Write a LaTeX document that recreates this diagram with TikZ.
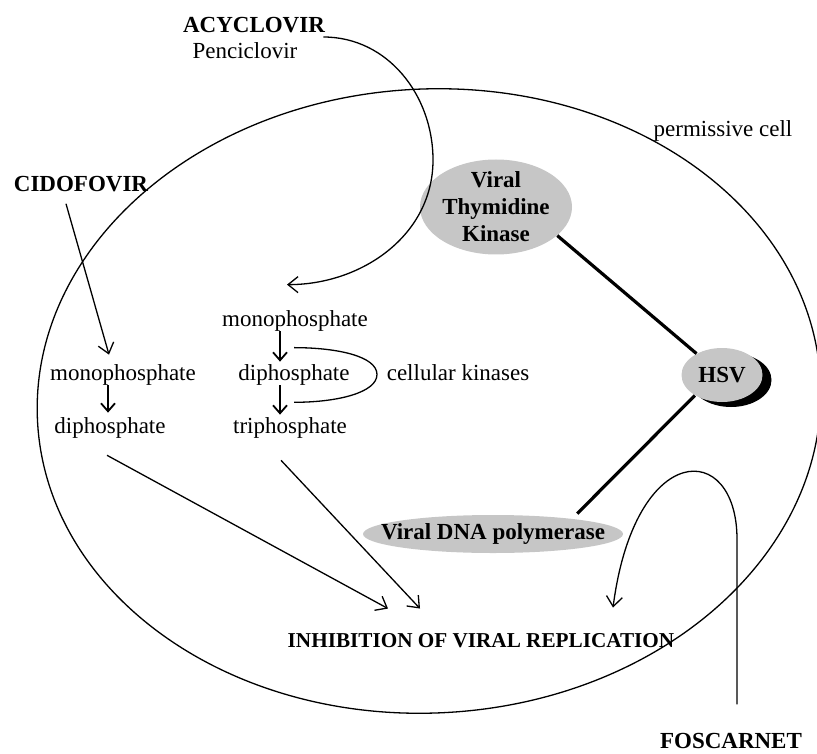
\documentclass[tikz,border=0pt]{standalone}
\usepackage{fontspec}
\setmainfont{Liberation Serif}
\usetikzlibrary{arrows.meta,shapes.geometric,shadows}
\definecolor{blobgray}{RGB}{198,198,198}
\begin{document}
\begin{tikzpicture}[x=0.5pt,y=0.5pt,
        font=\fontsize{11.5}{13.5}\selectfont,
        drug/.style={font=\fontsize{11.5}{13.5}\selectfont\bfseries},
        blob/.style={ellipse,fill=blobgray,align=center,font=\fontsize{11.5}{13.5}\selectfont\bfseries},
        flow/.style={line width=0.65pt,-{Straight Barb[length=5pt,width=8pt]}},
        steparrow/.style={line width=0.9pt,-{Straight Barb[length=4pt,width=7pt]}},
        link/.style={line width=1.6pt}]
        \tikzstyle{every node}+=[inner sep=0pt]
        \useasboundingbox (0,0) rectangle (817,-753);
        \node[blob,minimum width=76pt,minimum height=47.5pt,inner ysep=-3pt] (tk) at (496,-207) {Viral\\Thymidine\\Kinase};
        \node[blob,minimum width=40.5pt,minimum height=27pt,drop shadow={shadow xshift=4.5pt,shadow yshift=-2.5pt,fill=black,opacity=1}] (hsv) at (722,-375) {HSV};
        \node[blob,minimum width=130pt,minimum height=19pt,inner xsep=-11pt] (dna) at (493,-534) {Viral DNA polymerase};
        \draw[line width=0.65pt,rotate around={3:(429,-401)}] (429,-401) ellipse [x radius=392,y radius=312];
        \node[drug,anchor=base] (acy) at (254,-33) {ACYCLOVIR};
        \node[anchor=base] (pen) at (245,-59) {Penciclovir};
        \node[drug,anchor=base] (cido) at (81,-192) {CIDOFOVIR};
        \node[anchor=base] (perm) at (723,-137) {permissive cell};
        \node[anchor=base] (mono1) at (123,-380) {monophosphate};
        \node[anchor=base] (di1) at (110,-433) {diphosphate};
        \node[anchor=base] (mono2) at (295,-326) {monophosphate};
        \node[anchor=base] (di2) at (294,-380) {diphosphate};
        \node[anchor=base] (tri) at (290,-433) {triphosphate};
        \node[anchor=base] (kin) at (458,-380) {cellular kinases};
        \node[anchor=base,font=\fontsize{10.6}{12}\selectfont\bfseries] (inh) at (481,-647) {INHIBITION OF VIRAL REPLICATION};
        \node[drug,anchor=base] (fos) at (731,-748) {FOSCARNET};
        \coordinate (acyturn) at (433,-160);
        \draw[flow] ([xshift=-1pt,yshift=-2pt]acy.base east) to[out=0,in=90] (acyturn) to[out=-90,in=0] ([xshift=-4pt,yshift=12.5pt]mono2.north);
        \draw[flow] ([xshift=-7.5pt,yshift=-5.5pt]cido.south) -- ([xshift=-7pt,yshift=4.5pt]mono1.north);
        \draw[steparrow] ([xshift=-1pt]di1.north |- mono1.south) -- ([xshift=-1pt,yshift=2pt]di1.north);
        \draw[steparrow] ([xshift=-7pt]di2.north |- mono2.south) -- ([xshift=-7pt,yshift=1pt]di2.north);
        \draw[steparrow] ([xshift=-5pt]tri.north |- di2.south) -- ([xshift=-5pt,yshift=1pt]tri.north);
        \draw[line width=0.65pt] ([yshift=8pt]di2.north) .. controls +(22pt,0) and +(0,9pt) .. ([xshift=13.5pt]di2.east) .. controls +(0,-9pt) and +(22pt,0) .. ([yshift=-8.5pt]di2.south);
        \draw[link] (tk.-25) -- (hsv.140);
        \draw[link,shorten >=3.5pt] (hsv.-143) -- (dna.11);
        \draw[flow] ([xshift=-1.5pt,yshift=-8.5pt]di1.south) -- ([xshift=-46.5pt,yshift=12pt]inh.north);
        \draw[flow] ([xshift=-4.5pt,yshift=-11pt]tri.south) -- ([xshift=-30.5pt,yshift=12pt]inh.north);
        \draw[flow] ([xshift=3pt,yshift=14pt]fos.north) -- ++(0,165) .. controls +(0,100) and +(22,168) .. ([xshift=66pt,yshift=12.5pt]inh.north);
\end{tikzpicture}
\end{document}
